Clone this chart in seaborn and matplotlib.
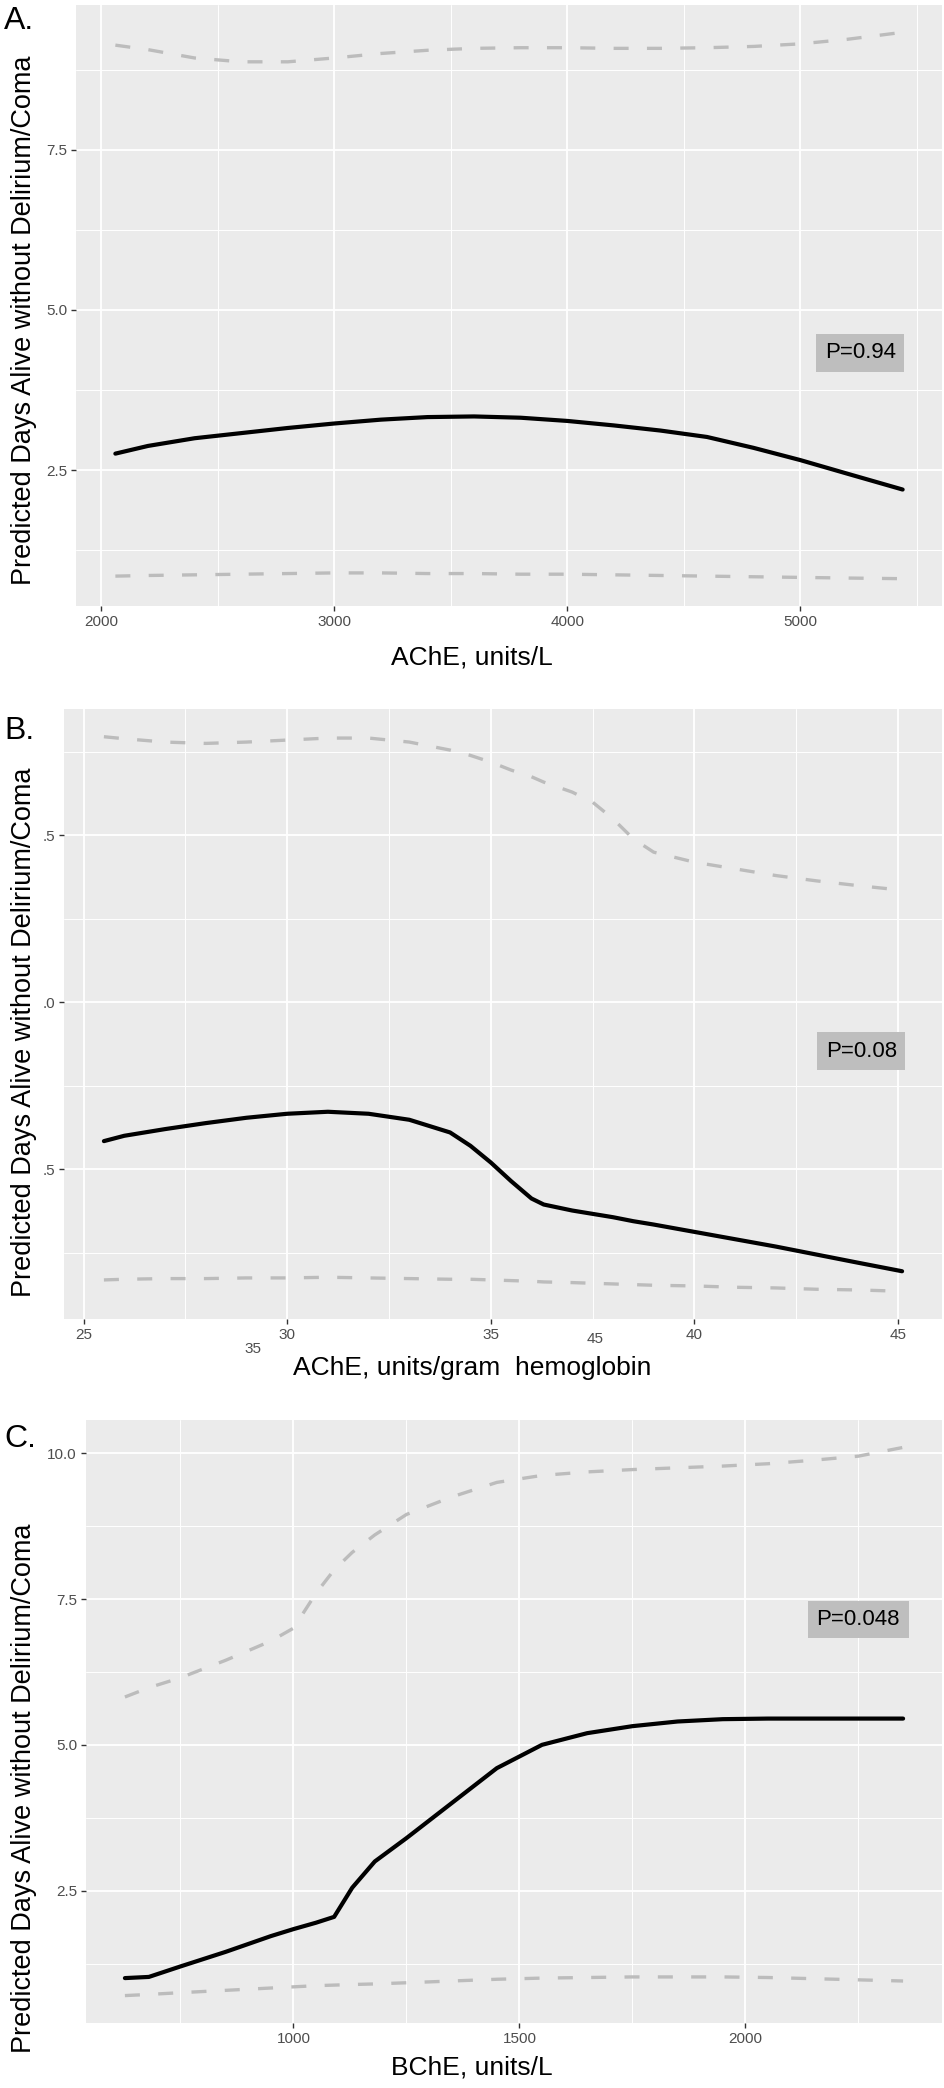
import numpy as np
import pandas as pd
import matplotlib
matplotlib.use("Agg")
import matplotlib.pyplot as plt
import seaborn as sns
from matplotlib.ticker import FixedLocator

# ---------------- data ----------------
# Panel A: AChE, units/L
ache_x = [2060, 2200, 2400, 2600, 2800, 3000, 3200, 3400, 3600, 3800, 4000,
          4200, 4400, 4600, 4800, 5000, 5200, 5440]
ache_fit = [2.76, 2.88, 3.00, 3.08, 3.16, 3.23, 3.29, 3.33, 3.34, 3.32, 3.27,
            3.20, 3.12, 3.02, 2.85, 2.66, 2.45, 2.20]
ache_upper = [9.13, 9.06, 8.93, 8.87, 8.87, 8.93, 9.00, 9.05, 9.08, 9.09, 9.09,
              9.08, 9.08, 9.09, 9.11, 9.15, 9.22, 9.33]
ache_lower = [0.85, 0.86, 0.87, 0.88, 0.89, 0.90, 0.90, 0.89, 0.89, 0.88, 0.88,
              0.87, 0.86, 0.85, 0.84, 0.83, 0.82, 0.81]

# Panel B: AChE, units/gram hemoglobin
achehb_x = [25.5, 26, 27, 28, 29, 30, 31, 32, 33, 34, 34.5, 35, 35.5, 36, 36.3,
            37, 37.5, 38, 38.5, 39, 40, 41, 42, 43, 44, 45.1]
achehb_fit = [2.92, 3.00, 3.10, 3.19, 3.27, 3.33, 3.36, 3.33, 3.24, 3.05, 2.85,
              2.60, 2.32, 2.06, 1.97, 1.88, 1.83, 1.78, 1.72, 1.67, 1.56, 1.45,
              1.34, 1.22, 1.10, 0.97]
achehb_upper = [8.98, 8.95, 8.90, 8.88, 8.90, 8.93, 8.96, 8.96, 8.90, 8.78, 8.70,
                8.60, 8.48, 8.38, 8.30, 8.15, 8.00, 7.75, 7.45, 7.25, 7.10, 7.00,
                6.90, 6.82, 6.75, 6.68]
achehb_lower = [0.84, 0.85, 0.86, 0.86, 0.87, 0.87, 0.88, 0.87, 0.86, 0.85, 0.85,
                0.84, 0.83, 0.82, 0.81, 0.80, 0.79, 0.78, 0.77, 0.76, 0.75, 0.73,
                0.72, 0.70, 0.69, 0.67]

# Panel C: BChE, units/L
bche_x = [627, 680, 750, 850, 950, 1000, 1050, 1090, 1130, 1180, 1250, 1350,
          1450, 1550, 1650, 1750, 1850, 1950, 2050, 2150, 2250, 2349]
bche_fit = [1.00, 1.02, 1.20, 1.45, 1.72, 1.84, 1.95, 2.05, 2.55, 3.00, 3.40,
            4.00, 4.60, 5.00, 5.20, 5.32, 5.40, 5.44, 5.45, 5.45, 5.45, 5.45]
bche_upper = [5.82, 5.98, 6.15, 6.45, 6.78, 7.00, 7.60, 8.00, 8.30, 8.60, 8.95,
              9.25, 9.50, 9.62, 9.68, 9.72, 9.75, 9.78, 9.82, 9.88, 9.95, 10.10]
bche_lower = [0.70, 0.72, 0.75, 0.79, 0.83, 0.85, 0.87, 0.88, 0.89, 0.90, 0.92,
              0.95, 0.98, 1.00, 1.01, 1.02, 1.02, 1.02, 1.01, 0.99, 0.97, 0.95]

panel_letters = ["A.", "B.", "C."]
x_titles = ["AChE, units/L", "AChE, units/gram  hemoglobin", "BChE, units/L"]
y_title = "Predicted Days Alive without Delirium/Coma"
p_labels = ["P=0.94", "P=0.08", "P=0.048"]
p_pos = [(5258, 4.33), (44.1, 4.27), (2250, 7.15)]

x_major = [[2000, 3000, 4000, 5000], [25, 30, 35, 40, 45], [1000, 1500, 2000]]
x_major_labels = [["2000", "3000", "4000", "5000"], ["25", "30", "35", "40", "45"],
                  ["1000", "1500", "2000"]]
x_minor = [[2500, 3500, 4500, 5500], [27.5, 32.5, 37.5, 42.5], [750, 1250, 1750, 2250]]
y_major = [[2.5, 5.0, 7.5], [2.5, 5.0, 7.5], [2.5, 5.0, 7.5, 10.0]]
y_major_labels = [["2.5", "5.0", "7.5"], [".5", ".0", ".5"], ["2.5", "5.0", "7.5", "10.0"]]
y_minor = [[1.25, 3.75, 6.25, 8.75], [1.25, 3.75, 6.25, 8.75], [1.25, 3.75, 6.25, 8.75]]

# stray labels on panel B x-axis (as in the original figure)
b_extra_labels = ["35", "45"]
b_extra_x = [29.15, 37.55]

# ---------------- style ----------------
sns.set_theme(style="darkgrid")
plt.rcParams["font.family"] = ["Liberation Sans", "DejaVu Sans"]

W, H = 944, 2088
fig = plt.figure(figsize=(W / 100, H / 100), dpi=100)
fig.patch.set_facecolor("white")

# axes rectangles in pixels: left, top, right, bottom
rects = [(76, 5, 942, 606), (64, 709, 942, 1319), (86, 1420, 942, 2023)]
series = [
    (ache_x, ache_fit, ache_upper, ache_lower),
    (achehb_x, achehb_fit, achehb_upper, achehb_lower),
    (bche_x, bche_fit, bche_upper, bche_lower),
]
ylab_centers = [320, 1032, 1788]
letter_tops = [6, 716, 1424]
xtitle_y = [658, 1368, 2067]

for i, ((l, t, r, b), (xs, fit, up, lo)) in enumerate(zip(rects, series)):
    ax = fig.add_axes([l / W, 1 - b / H, (r - l) / W, (b - t) / H])
    ax.set_facecolor("#EBEBEB")
    df = pd.DataFrame({"x": xs, "fit": fit, "upper": up, "lower": lo})
    for col in ["upper", "lower"]:
        sns.lineplot(data=df, x="x", y=col, ax=ax, color="#BCBCBC", lw=2.4,
                     sort=False, estimator=None, errorbar=None)
        ax.lines[-1].set_dashes([4.5, 5.5])
    sns.lineplot(data=df, x="x", y="fit", ax=ax, color="black", lw=3.0,
                 sort=False, estimator=None, errorbar=None)

    # ggplot-like limits (5% expansion)
    xmin, xmax = min(xs), max(xs)
    dx = (xmax - xmin) * 0.05
    ax.set_xlim(xmin - dx, xmax + dx)
    ymin = min(lo + fit + up)
    ymax = max(lo + fit + up)
    dy = (ymax - ymin) * 0.05
    ax.set_ylim(ymin - dy, ymax + dy)

    ax.xaxis.set_major_locator(FixedLocator(x_major[i]))
    ax.set_xticklabels(x_major_labels[i])
    ax.xaxis.set_minor_locator(FixedLocator(x_minor[i]))
    ax.yaxis.set_major_locator(FixedLocator(y_major[i]))
    ax.set_yticklabels(y_major_labels[i])
    ax.yaxis.set_minor_locator(FixedLocator(y_minor[i]))

    ax.grid(which="major", color="white", lw=1.3)
    ax.grid(which="minor", color="white", lw=0.7)
    ax.set_axisbelow(True)
    for s in ax.spines.values():
        s.set_visible(False)
    ax.tick_params(which="major", length=3.5, width=1.0, color="#333333",
                   labelsize=11, labelcolor="#4D4D4D", pad=3, bottom=True, left=True)
    ax.tick_params(which="minor", length=0)
    ax.set_xlabel("")
    ax.set_ylabel("")

    # P-value box
    px, py = p_pos[i]
    ax.text(px, py, p_labels[i], ha="center", va="center", fontsize=16,
            color="black",
            bbox=dict(boxstyle="square,pad=0.38", facecolor="#BEBEBE",
                      edgecolor="none"))

    if i == 1:
        offs = [-7, 0]
        for lab, xv, oy in zip(b_extra_labels, b_extra_x, offs):
            ax.annotate(lab, xy=(xv, 0), xycoords=("data", "axes fraction"),
                        xytext=(0, -9.5 + oy), textcoords="offset points",
                        ha="center", va="top", fontsize=11, color="#4D4D4D")

    fig.text(4 / W, 1 - letter_tops[i] / H, panel_letters[i], ha="left", va="top",
             fontsize=23, color="black")
    fig.text(24 / W, 1 - ylab_centers[i] / H, y_title, rotation=90, ha="center",
             va="center", fontsize=19.5, color="black")
    fig.text(472 / W, 1 - xtitle_y[i] / H, x_titles[i], ha="center", va="center",
             fontsize=19, color="black")

fig.savefig("out.png", dpi=100, facecolor="white")
